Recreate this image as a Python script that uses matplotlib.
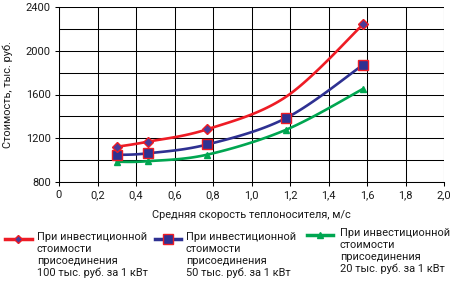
import numpy as np
import matplotlib
matplotlib.use("Agg")
import matplotlib.pyplot as plt
from matplotlib.lines import Line2D
from matplotlib.ticker import FixedLocator, FuncFormatter

# ---- data ----
x_red = [0.30, 0.46, 0.77, 1.18, 1.58]
y_red = [1122, 1168, 1282, 1580, 2242]
red_marked = [0, 1, 2, 4]  # no marker shown at 1.18 for this series
x_blue = [0.30, 0.46, 0.77, 1.18, 1.58]
y_blue = [1048, 1062, 1143, 1385, 1872]
x_green = [0.30, 0.46, 0.77, 1.18, 1.58]
y_green = [985, 990, 1050, 1278, 1652]

labels = [
    "При инвестиционной\nстоимости\nприсоединения\n100 тыс. руб. за 1 кВт",
    "При инвестиционной\nстоимости\nприсоединения\n50 тыс. руб. за 1 кВт",
    "При инвестиционной\nстоимости\nприсоединения\n20 тыс. руб. за 1 кВт",
]
x_ticks = [0, 0.2, 0.4, 0.6, 0.8, 1.0, 1.2, 1.4, 1.6, 1.8, 2.0]
y_ticks = [800, 1200, 1600, 2000, 2400]

RED = "#ee1c25"
NAVY = "#2e3192"
GREEN = "#00a651"
TXT = "#1a1a1a"
FS = 7.9


def smooth(xs, ys, n=30):
    """Excel-like smoothed line (cubic Bezier, 1/6 tangent factor)."""
    P = np.column_stack([xs, ys]).astype(float)
    m = len(P)
    out = []
    for i in range(m - 1):
        p0 = P[i - 1] if i > 0 else P[i]
        p1 = P[i]
        p2 = P[i + 1]
        p3 = P[i + 2] if i + 2 < m else P[i + 1]
        c1 = p1 + (p2 - p0) / 6.0
        c2 = p2 - (p3 - p1) / 6.0
        t = np.linspace(0, 1, n)[:, None]
        seg = ((1 - t) ** 3) * p1 + 3 * ((1 - t) ** 2) * t * c1 + 3 * (1 - t) * t ** 2 * c2 + t ** 3 * p2
        out.append(seg if i == 0 else seg[1:])
    s = np.vstack(out)
    return s[:, 0], s[:, 1]


plt.rcParams["font.family"] = ["Roboto", "DejaVu Sans"]
fig = plt.figure(figsize=(4.52, 2.86), dpi=100)
ax = fig.add_axes([59 / 452, 1 - 182 / 286, (444 - 59) / 452, (182 - 7) / 286])

ax.set_xlim(0, 2.0)
ax.set_ylim(800, 2400)

# grid
ax.xaxis.set_major_locator(FixedLocator(x_ticks))
ax.yaxis.set_major_locator(FixedLocator(y_ticks))
ax.yaxis.set_minor_locator(FixedLocator(list(range(800, 2401, 200))))
ax.grid(True, which="major", color="black", linewidth=0.75)
ax.grid(True, which="minor", axis="y", color="black", linewidth=0.75)
ax.tick_params(axis="y", which="minor", length=0)
ax.tick_params(axis="both", which="major", length=3, width=0.75, color="black",
               labelsize=FS, labelcolor=TXT, pad=3)
for sp in ax.spines.values():
    sp.set_visible(False)
ax.spines["left"].set_visible(True)
ax.spines["bottom"].set_visible(True)
ax.spines["left"].set_linewidth(0.75)
ax.spines["bottom"].set_linewidth(0.75)

ax.xaxis.set_major_formatter(FuncFormatter(lambda v, p: "0" if v == 0 else f"{v:.1f}".replace(".", ",")))
ax.yaxis.set_major_formatter(FuncFormatter(lambda v, p: f"{int(v)}"))

ax.set_xlabel("Средняя скорость теплоносителя, м/с", fontsize=FS, color=TXT, labelpad=7)
ax.set_ylabel("Стоимость, тыс. руб.", fontsize=FS, color=TXT, labelpad=9)

# series
for xs, ys, col in [(x_green, y_green, GREEN), (x_blue, y_blue, NAVY), (x_red, y_red, RED)]:
    sx, sy = smooth(xs, ys)
    ax.plot(sx, sy, color=col, linewidth=1.9, zorder=3, solid_capstyle="round")

ax.plot(x_green, y_green, linestyle="none", marker="^", markersize=5,
        markerfacecolor=GREEN, markeredgecolor=GREEN, zorder=4)
ax.plot(x_blue, y_blue, linestyle="none", marker="s", markersize=7,
        markerfacecolor=NAVY, markeredgecolor=RED, markeredgewidth=1.0, zorder=4)
ax.plot(x_red, y_red, linestyle="none", marker="D", markersize=5.5, markevery=red_marked,
        markerfacecolor="#4a3a9a", markeredgecolor=RED, markeredgewidth=1.0, zorder=5)

# legend (manual, top aligned)
W, H = 452.0, 286.0
entries = [
    (5, 32, 239, RED, "D", "#4a3a9a", RED, 4.5, labels[0], 37),
    (155, 181, 239, NAVY, "s", NAVY, RED, 6.5, labels[1], 186),
    (307, 333, 235, GREEN, "^", GREEN, GREEN, 4.5, labels[2], 340),
]
for x0, x1, yc, col, mk, mfc, mec, ms, lab, tx in entries:
    fig.add_artist(Line2D([x0 / W, x1 / W], [1 - yc / H, 1 - yc / H], transform=fig.transFigure,
                          color=col, linewidth=2.5, marker=None))
    fig.add_artist(Line2D([(x0 + x1) / 2 / W], [1 - yc / H], transform=fig.transFigure,
                          linestyle="none", marker=mk, markersize=ms, markerfacecolor=mfc,
                          markeredgecolor=mec, markeredgewidth=1.0))
    fig.text(tx / W, 1 - (yc - 6.5) / H, lab, fontsize=FS, color=TXT, ha="left", va="top",
             linespacing=1.2)

fig.savefig("out.png", dpi=100)
